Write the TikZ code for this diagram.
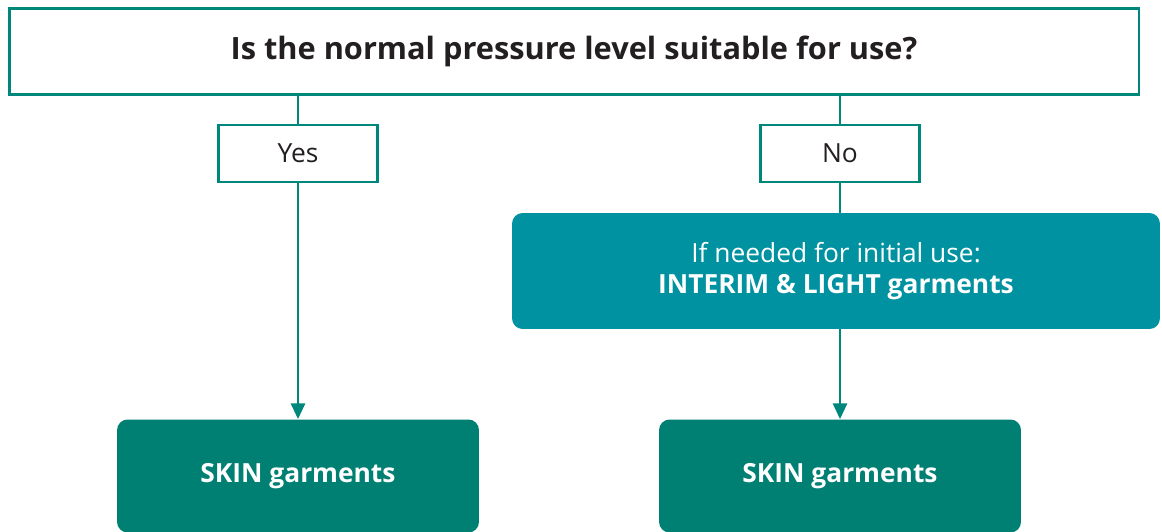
\documentclass[tikz,border=0pt]{standalone}
\usepackage{fontspec}
\setmainfont{Open Sans}
\usetikzlibrary{arrows.meta}

\definecolor{tealline}{HTML}{00877C}
\definecolor{tealblue}{HTML}{0092A0}
\definecolor{tealdark}{HTML}{008073}
\definecolor{inkgray}{HTML}{231F20}

\begin{document}
\begin{tikzpicture}[
    x=0.02cm, y=-0.02cm,
    frame/.style={draw=tealline, line width=1.6pt, fill=white, inner sep=0pt, text=inkgray},
    answer/.style={frame, line width=1.4pt, minimum width=3.18cm, minimum height=1.14cm, font=\fontsize{15}{18}\selectfont},
    action/.style={rounded corners=6pt, inner sep=0pt, text=white, align=center},
    link/.style={draw=tealline, line width=1.5pt},
    arrow/.style={link, -{Triangle[length=9pt,width=8pt]}}
  ]
    \useasboundingbox (0,0) rectangle (1162,531);
    \node[frame, minimum width=22.6cm, minimum height=1.72cm, font=\fontsize{17.5}{21}\selectfont\bfseries] (question) at (574,51.5) {Is the normal pressure level suitable for use?};
    \node[answer] (yes) at (298,153.5) {Yes};
    \node[answer] (no) at (840,153.5) {No};
    \node[action, fill=tealblue, minimum width=12.96cm, minimum height=2.32cm, font=\fontsize{15}{18}\selectfont] (interim) at (836,271) {If needed for initial use:\\\bfseries INTERIM \& LIGHT garments};
    \node[action, fill=tealdark, minimum width=7.24cm, minimum height=2.26cm, font=\fontsize{15}{18}\selectfont\bfseries] (skinleft) at (298,476) {SKIN garments};
    \node[action, fill=tealdark, minimum width=7.24cm, minimum height=2.26cm, font=\fontsize{15}{18}\selectfont\bfseries] (skinright) at (840,476) {SKIN garments};
    \draw[link] (question.south -| yes) -- (yes);
    \draw[link] (question.south -| no) -- (no);
    \draw[link] (no) -- (interim.north -| no);
    \draw[arrow] (yes) -- (skinleft);
    \draw[arrow] (interim.south -| skinright) -- (skinright);
  \end{tikzpicture}
\end{document}
